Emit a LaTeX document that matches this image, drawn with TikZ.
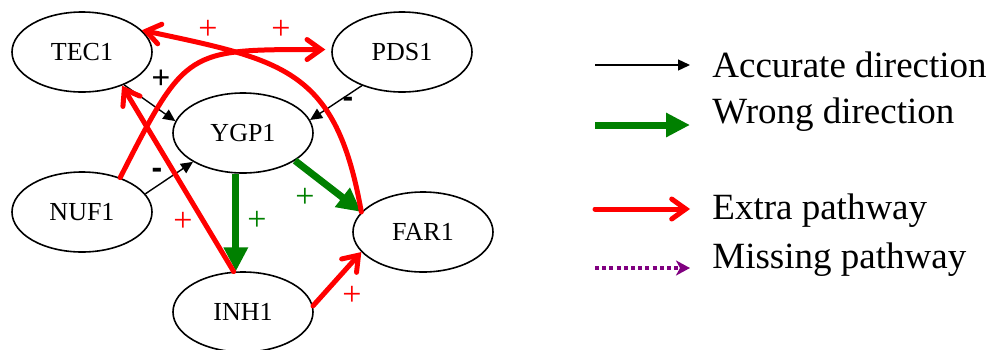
\documentclass[tikz,border=0pt]{standalone}
\usepackage{fontspec}
\setmainfont{Liberation Serif}
\setsansfont{Liberation Sans}
\usetikzlibrary{shapes.geometric,arrows.meta}
\definecolor{wrongcol}{RGB}{0,128,0}
\definecolor{extracol}{RGB}{255,0,0}
\definecolor{missingcol}{RGB}{128,0,128}
\begin{document}
\begin{tikzpicture}[x=0.5pt,y=0.5pt,
  gene/.style={draw,ellipse,line width=0.8pt,minimum width=70pt,minimum height=40pt,
    inner sep=0pt,font=\fontsize{13}{13}\selectfont},
  accurate/.style={line width=0.7pt,-{Triangle[length=6pt,width=5.5pt]}},
  wrong/.style={draw=wrongcol,line width=3.5pt,-{Triangle[length=12pt,width=11.5pt]}},
  extra/.style={draw=extracol,line width=2.5pt,line cap=round,
    -{Straight Barb[length=7pt,width=10pt,line cap=round]}},
  missing/.style={draw=missingcol,line width=2pt,dash pattern=on 2pt off 1.6pt,
    -{Stealth[length=7pt,width=7.5pt,inset=2pt]}},
  sign/.style={inner sep=0pt,font=\fontsize{17}{17}\selectfont},
  bsign/.style={inner sep=0pt,font=\fontsize{16}{16}\selectfont\sffamily},
  legend/.style={anchor=base west,inner sep=0pt,font=\fontsize{18.5}{18.5}\selectfont}]
\useasboundingbox (0,0) rectangle (990,-349);
% genes
\node[gene] (tec) at (82,-52) {TEC1};
\node[gene] (pds) at (402,-52) {PDS1};
\node[gene] (ygp) at (243,-133) {YGP1};
\node[gene] (nuf) at (82,-212) {NUF1};
\node[gene] (far) at (423,-232) {FAR1};
\node[gene] (inh) at (243,-312) {INH1};
% accurate direction
\draw[accurate] (tec.-38) -- (ygp.170);
\draw[accurate] (pds.220) -- (ygp.11);
\draw[accurate] (nuf.16) -- (ygp.210);
\node[bsign] (sTecYgp) at (161,-79) {+};
\node[bsign] (sPdsYgp) at (348,-102) {\bfseries -};
\node[bsign] (sNufYgp) at (157,-173) {\bfseries -};
% wrong direction
\draw[wrong] (ygp.-28) -- (far.162);
\draw[wrong] (ygp.-100) -- (inh.100);
\node[sign,text=wrongcol] (sYgpFar) at (305,-198) {+};
\node[sign,text=wrongcol] (sYgpInh) at (257,-221) {+};
% extra pathways
\draw[extra] (inh.5) -- (far.198);
\draw[extra] (inh.103) -- (tec.-40);
\draw[extra,shorten >=3pt] (nuf.42) to[out=63,in=180,looseness=1.5] (pds.178);
\draw[extra] (far.162) to[out=100,in=-12,looseness=1.3] (tec.20);
\node[sign,text=extracol] (sInhFar) at (352,-296) {+};
\node[sign,text=extracol] (sInhTec) at (183,-222) {+};
\node[sign,text=extracol] (sNufPds) at (281,-30) {+};
\node[sign,text=extracol] (sFarTec) at (208,-30) {+};
% legend
\coordinate (accA) at (595,-65);  \coordinate (accB) at (690,-65);
\coordinate (wroA) at (595,-125); \coordinate (wroB) at (690,-125);
\coordinate (extA) at (595,-209); \coordinate (extB) at (690,-209);
\coordinate (misA) at (595,-268); \coordinate (misB) at (690,-268);
\draw[accurate] (accA) -- (accB);
\draw[wrong] (wroA) -- (wroB);
\draw[extra] (extA) -- (extB);
\draw[missing] (misA) -- (misB);
\node[legend] (accTxt) at (712,-77) {Accurate direction};
\node[legend] (wroTxt) at (712,-123) {Wrong direction};
\node[legend] (extTxt) at (712,-219) {Extra pathway};
\node[legend] (misTxt) at (712,-268) {Missing pathway};
\end{tikzpicture}
\end{document}
